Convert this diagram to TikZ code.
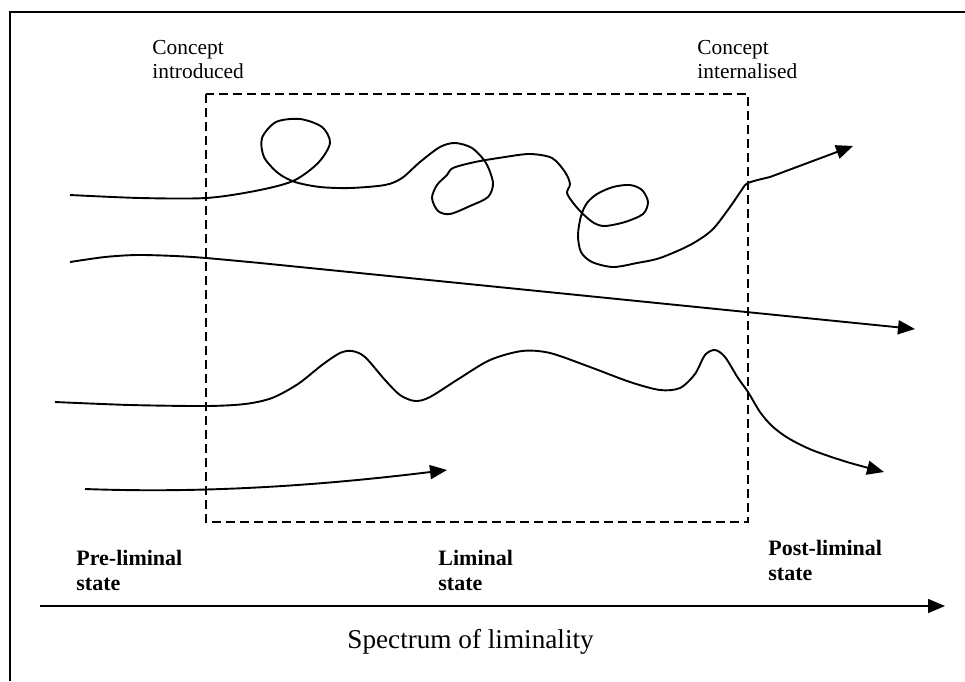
\documentclass[tikz,border=0pt]{standalone}
\usepackage{fontspec}
\setmainfont{Liberation Serif}
\usepackage{tikz}
\usetikzlibrary{arrows.meta}
\tikzset{flow/.style = {line width=0.95pt, line join=round,
                        -{Triangle[length=8.5pt, width=7pt]}}}
\tikzset{liminal/.style = {line width=1.1pt, dash pattern=on 4.5pt off 2.5pt}}
\tikzset{moment/.style = {anchor=north west, inner sep=0pt, align=left,
                          font=\fontsize{10.7}{12}\selectfont}}
\tikzset{phase/.style = {anchor=north west, inner sep=0pt, align=left,
                         font=\fontsize{11}{12.5}\selectfont\bfseries}}

\begin{document}
\begin{tikzpicture}[x=0.5pt, y=-0.5pt]
      \useasboundingbox (0,0) rectangle (965,681);
      \draw [line width=1.1pt] (10,681) -- (10,12) -- (965,12);
      \draw [liminal] (206,94) rectangle (748,522);

      \node [moment] (introduced) at (152,40) {Concept\\introduced};
      \node [moment] (internalised) at (697,40) {Concept\\internalised};
      \node [phase] (pre) at (76,550) {Pre-liminal\\state};
      \node [phase] (lim) at (438,550) {Liminal\\state};
      \node [phase] (post) at (768,540) {Post-liminal\\state};

      \coordinate (looptip) at (853,146);
      \coordinate (straighttip) at (915,329);
      \coordinate (wavetip) at (884,472);
      \coordinate (shortstart) at (85,489);
      \coordinate (shorttip) at (447,470);
      \coordinate (axisstart) at (40,606);
      \coordinate (axisend) at (945,606);

      \draw [flow] plot [smooth] coordinates {(70,195) (140,198) (206,198) (255,191)
        (293,181) (318,163) (330,143) (322,127) (300,119) (276,122) (262,138) (264,157)
        (278,173) (295,182) (320,187) (350,188) (385,185) (402,178) (420,162) (440,147)
        (455,143) (472,148) (486,163) (493,183) (488,197) (470,206) (450,214) (438,211)
        (432,198) (437,185) (447,175) (453,168) (475,162) (505,157) (530,154) (552,158)
        (565,172) (570,184) (567,193) (574,204) (583,214) (594,223) (605,226) (625,222)
        (643,214) (648,202) (642,190) (630,185) (613,187) (597,194) (587,203) (581,216)
        (578,235) (581,252) (592,262) (613,267) (637,263) (660,258) (690,245) (712,230)
        (730,207) (741,191) (748,183) (770,177)} -- (looptip);
      \draw [flow] plot [smooth] coordinates {(70,262) (105,257) (137,255) (175,256)
        (206,258) (260,263)} -- (straighttip);
      \draw [flow] plot [smooth] coordinates {(55,402) (130,405) (206,406) (245,404)
        (272,398) (298,384) (322,365) (340,353) (352,351) (365,357) (385,380) (400,395)
        (415,401) (430,397) (460,378) (490,360) (522,351) (550,353) (590,367) (630,382)
        (660,390) (680,388) (695,374) (705,355) (715,350) (725,357) (738,378) (748,392)
        (760,412) (772,426) (788,438) (812,450) (847,462) (wavetip)};
      \draw [flow] (shortstart) .. controls (220,494) and (340,483) .. (shorttip);

      \draw [flow, line width=0.75pt] (axisstart) -- (axisend);
      \node [anchor=base west, inner sep=0pt, font=\fontsize{13.6}{15}\selectfont]
        (spectrum) at (347,648) {Spectrum of liminality};
\end{tikzpicture}
\end{document}
